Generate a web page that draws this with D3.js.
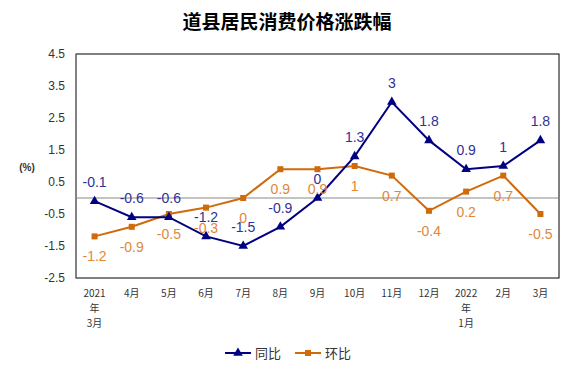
<!DOCTYPE html>
<html>
<head>
<meta charset="utf-8">
<script src="https://cdn.jsdelivr.net/npm/d3@7"></script>
<style>
body { margin: 0; background: #fff; }
text { font-family: "Liberation Sans", "Noto Sans CJK SC", sans-serif; }
.cjk { font-family: "Noto Sans CJK SC", sans-serif; }
</style>
</head>
<body>
<svg width="574" height="374"></svg>
<script>
var months = ["2021\n年\n3月", "4月", "5月", "6月", "7月", "8月", "9月", "10月", "11月", "12月", "2022\n年\n1月", "2月", "3月"];
var tongbi = [-0.1, -0.6, -0.6, -1.2, -1.5, -0.9, 0, 1.3, 3, 1.8, 0.9, 1, 1.8];
var huanbi = [-1.2, -0.9, -0.5, -0.3, 0, 0.9, 0.9, 1, 0.7, -0.4, 0.2, 0.7, -0.5];
var yTicks = [4.5, 3.5, 2.5, 1.5, 0.5, -0.5, -1.5, -2.5];

var svg = d3.select("svg");
var pLeft = 76, pRight = 559, pTop = 54, pBottom = 278;

var xScale = d3.scaleBand().domain(months).range([pLeft, pRight]);
var yScale = d3.scaleLinear().domain([-2.5, 4.5]).range([pBottom, pTop]);

svg.append("text")
.attr("class", "cjk")
.attr("x", 287)
.attr("y", 29)
.attr("text-anchor", "middle")
.attr("font-size", 19)
.attr("font-weight", "bold")
.attr("fill", "#000")
.text("道县居民消费价格涨跌幅");

// frame
svg.append("rect")
.attr("x", pLeft).attr("y", pTop)
.attr("width", pRight - pLeft).attr("height", pBottom - pTop)
.attr("fill", "none").attr("stroke", "#000").attr("stroke-width", 1);
svg.append("line")
.attr("x1", pLeft).attr("x2", pLeft).attr("y1", pTop).attr("y2", pBottom)
.attr("stroke", "#888");

// zero line
svg.append("line")
.attr("x1", pLeft).attr("x2", pRight)
.attr("y1", yScale(0)).attr("y2", yScale(0))
.attr("stroke", "#888");

// y tick labels
svg.selectAll(".ytick")
.data(yTicks)
.enter()
.append("text")
.attr("class", "ytick")
.attr("x", 65)
.attr("y", (d)=>yScale(d) + 4)
.attr("text-anchor", "end")
.attr("font-size", 12)
.attr("fill", "#333")
.text((d)=>d);

svg.append("text")
.attr("x", 27)
.attr("y", 171)
.attr("text-anchor", "middle")
.attr("font-size", 10)
.attr("font-weight", "bold")
.attr("fill", "#333")
.text("(%)");

// x labels
var xl = svg.selectAll(".xlab")
.data(months)
.enter()
.append("text")
.attr("class", "xlab cjk")
.attr("text-anchor", "middle")
.attr("font-size", 10)
.attr("fill", "#333");
xl.each(function(d) {
  var t = d3.select(this);
  d.split("\n").forEach(function(s, i) {
    t.append("tspan")
    .attr("x", xScale(d) + xScale.bandwidth() / 2)
    .attr("y", 297 + i * 15)
    .text(s);
  });
});

var cx = (d, i)=>xScale(months[i]) + xScale.bandwidth() / 2;
var line = d3.line().x(cx).y((d)=>yScale(d));

var blue = "#000080", orange = "#D06A0A";

svg.append("path")
.attr("d", line(huanbi))
.attr("fill", "none").attr("stroke", orange).attr("stroke-width", 2);
svg.append("path")
.attr("d", line(tongbi))
.attr("fill", "none").attr("stroke", blue).attr("stroke-width", 2);

svg.selectAll(".sq")
.data(huanbi)
.enter()
.append("rect")
.attr("class", "sq")
.attr("x", (d, i)=>cx(d, i) - 3)
.attr("y", (d)=>yScale(d) - 3)
.attr("width", 6).attr("height", 6)
.attr("fill", orange);

var tri = d3.symbol().type(d3.symbolTriangle).size(40);
svg.selectAll(".tri")
.data(tongbi)
.enter()
.append("path")
.attr("class", "tri")
.attr("d", tri)
.attr("transform", (d, i)=>"translate(" + cx(d, i) + "," + yScale(d) + ")")
.attr("fill", blue);

// data labels
svg.selectAll(".lb")
.data(tongbi)
.enter()
.append("text")
.attr("class", "lb")
.attr("x", cx)
.attr("y", (d)=>yScale(d) - 14)
.attr("text-anchor", "middle")
.attr("font-size", 14)
.attr("fill", "#30309A")
.text((d)=>d);

svg.selectAll(".lo")
.data(huanbi)
.enter()
.append("text")
.attr("class", "lo")
.attr("x", cx)
.attr("y", (d)=>yScale(d) + 25)
.attr("text-anchor", "middle")
.attr("font-size", 14)
.attr("fill", "#E0873A")
.text((d)=>d);

// legend
var lg = svg.append("g").attr("transform", "translate(225,353)");
lg.append("line").attr("x1", 0).attr("x2", 26).attr("stroke", blue).attr("stroke-width", 2);
lg.append("path").attr("d", tri).attr("transform", "translate(13,0)").attr("fill", blue);
lg.append("text").attr("class", "cjk").attr("x", 30).attr("y", 5).attr("font-size", 13).attr("fill", "#333").text("同比");
lg.append("line").attr("x1", 70).attr("x2", 96).attr("stroke", orange).attr("stroke-width", 2);
lg.append("rect").attr("x", 80).attr("y", -3).attr("width", 6).attr("height", 6).attr("fill", orange);
lg.append("text").attr("class", "cjk").attr("x", 100).attr("y", 5).attr("font-size", 13).attr("fill", "#333").text("环比");
</script>
</body>
</html>
